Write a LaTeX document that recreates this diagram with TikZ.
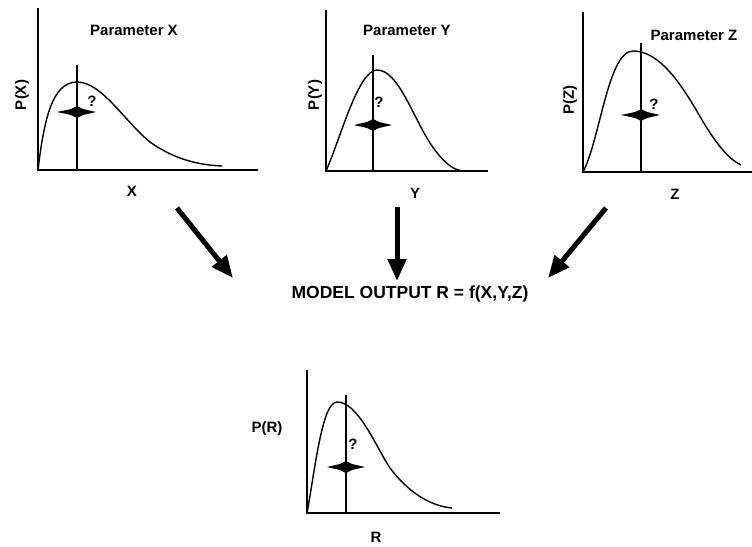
\documentclass[tikz,border=0pt]{standalone}
\usepackage{fontspec}
\setmainfont{Liberation Sans}
\usetikzlibrary{arrows.meta}
\begin{document}
\begin{tikzpicture}[x=1pt,y=-1pt,
  axis/.style={line width=1.6pt},
  curve/.style={line width=1.4pt},
  vline/.style={line width=1.4pt},
  lbl/.style={font=\bfseries\fontsize{15}{17}\selectfont, inner sep=0pt},
  biglbl/.style={font=\bfseries\fontsize{17.5}{20}\selectfont, inner sep=0pt},
  bigarrow/.style={line width=5pt,-{Triangle[length=22pt,width=18pt]}},
  dmd/.style={fill=black}
]
\useasboundingbox (0,0) rectangle (752,546);
% ---------- Plot X
\draw[axis] (38,8) -- (38,170) -- (258,170);
\draw[vline] (77,65) -- (77,170);
\draw[curve] (38,170) .. controls (44,120) and (52,82) .. (77,82)
  .. controls (102,82) and (125,122) .. (150,142)
  .. controls (175,160) and (200,165) .. (222,166);
\fill[dmd] (57,112) -- (71,109) -- (77,106) -- (83,109) -- (96,112) -- (83,115) -- (77,118) -- (71,115) -- cycle;
\node[lbl] (qx) at (92,101) {?};
\node[lbl] (px) at (134,30) {Parameter X};
\node[lbl,rotate=90] (pxl) at (22,95) {P(X)};
\node[lbl] (xl) at (132,191) {X};
% ---------- Plot Y
\draw[axis] (326,10) -- (326,171) -- (488,171);
\draw[vline] (373,55) -- (373,171);
\draw[curve] (326,171) .. controls (340,140) and (358,70) .. (377,70)
  .. controls (398,70) and (412,115) .. (430,143)
  .. controls (442,161) and (452,170) .. (463,171);
\fill[dmd] (354,125) -- (367,122) -- (373,119) -- (379,122) -- (392,125) -- (379,128) -- (373,131) -- (367,128) -- cycle;
\node[lbl] (qy) at (379,102) {?};
\node[lbl] (py) at (407,30) {Parameter Y};
\node[lbl,rotate=90] (pyl) at (315,95) {P(Y)};
\node[lbl] (yl) at (415,193) {Y};
% ---------- Plot Z
\draw[axis] (583,12) -- (583,172) -- (752,172);
\draw[vline] (641,43) -- (641,172);
\draw[curve] (583,172) .. controls (600,140) and (608,51) .. (633,51)
  .. controls (665,51) and (690,100) .. (705,125)
  .. controls (718,146) and (730,160) .. (741,165);
\fill[dmd] (621,115) -- (635,112) -- (641,109) -- (647,112) -- (660,115) -- (647,118) -- (641,121) -- (635,118) -- cycle;
\node[lbl] (qz) at (654,104) {?};
\node[lbl] (pz) at (694,35) {Parameter Z};
\node[lbl,rotate=90] (pzl) at (570,100) {P(Z)};
\node[lbl] (zl) at (675,194) {Z};
% ---------- Arrows
\coordinate (a1s) at (177,208); \coordinate (a1e) at (233,278);
\coordinate (a2s) at (397,207); \coordinate (a2e) at (397,281);
\coordinate (a3s) at (606,208); \coordinate (a3e) at (548,278);
\draw[bigarrow] (a1s) -- (a1e);
\draw[bigarrow] (a2s) -- (a2e);
\draw[bigarrow] (a3s) -- (a3e);
\node[biglbl] (model) at (410,294) {MODEL OUTPUT R = f(X,Y,Z)};
% ---------- Plot R
\draw[axis] (307,370) -- (307,513) -- (500,513);
\draw[vline] (346,395) -- (346,513);
\draw[curve] (307,513) .. controls (315,470) and (322,402) .. (337,402)
  .. controls (358,402) and (375,445) .. (390,468)
  .. controls (408,492) and (430,506) .. (452,508);
\fill[dmd] (327,467) -- (340,464) -- (346,461) -- (352,464) -- (365,467) -- (352,470) -- (346,473) -- (340,470) -- cycle;
\node[lbl] (qr) at (353,444) {?};
\node[lbl] (prl) at (267,429) {P(R)};
\node[lbl] (rl) at (376,537) {R};
\end{tikzpicture}
\end{document}
